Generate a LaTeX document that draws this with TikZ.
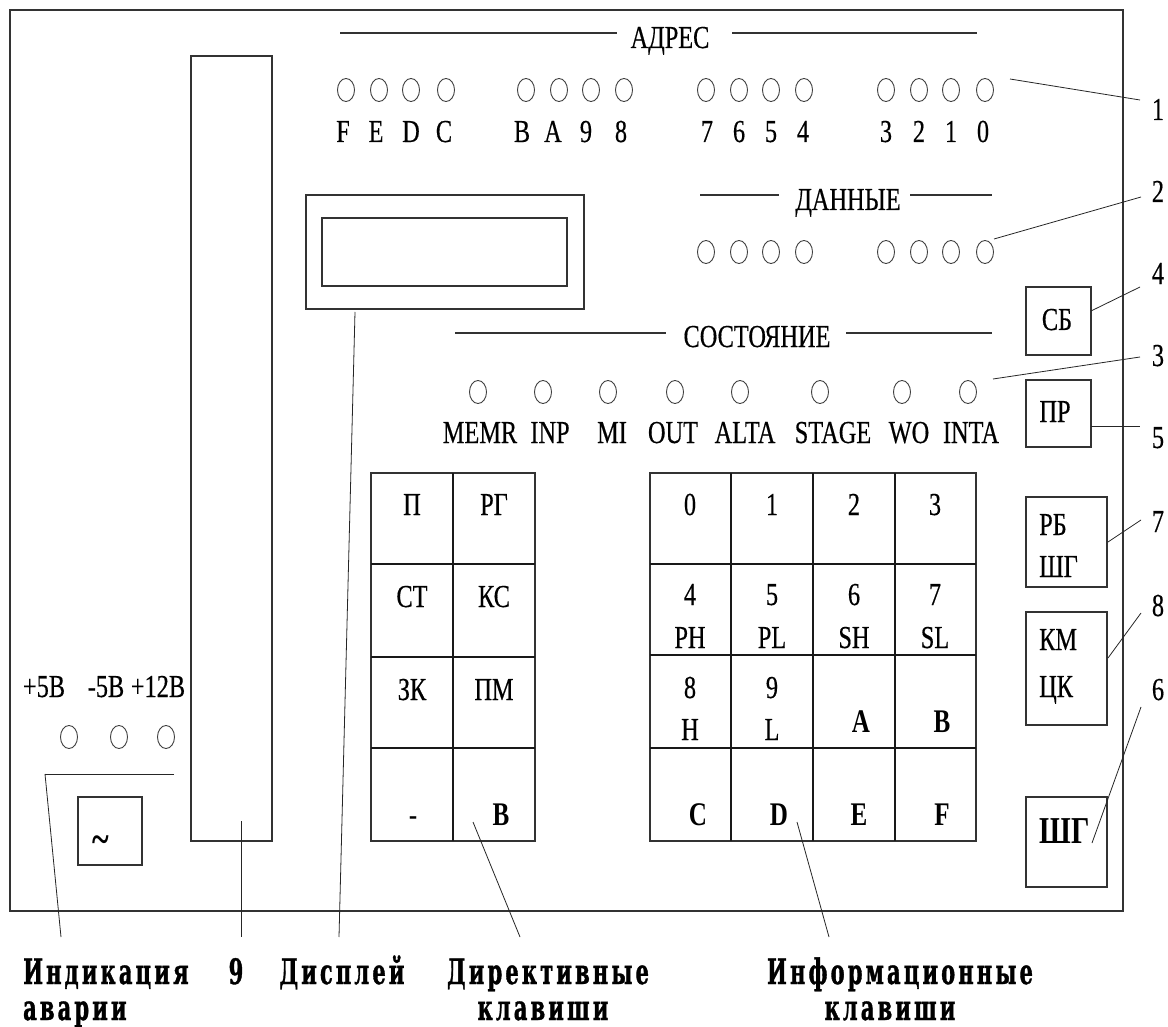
\documentclass[tikz,border=0pt]{standalone}
\usepackage{fontspec}
\setmainfont{Liberation Serif}[FakeStretch=0.76,UprightFeatures={FakeBold=0.4}]
\newfontfamily\botfamily{DejaVu Serif}[FakeStretch=0.6,LetterSpace=9,FakeBold=1]
\usetikzlibrary{shapes.geometric}
\newcommand\rmt{\fontsize{32}{32}\selectfont}
\newcommand\bldt{\fontsize{33}{33}\selectfont\bfseries}
\newcommand\bott{\botfamily\bfseries\fontsize{35}{35}\selectfont}
\begin{document}
\begin{tikzpicture}[x=1pt,y=-1pt,
  ln/.style={draw=black!80,line width=1.1pt},
  led/.style={ellipse,draw=black!75,line width=0.9pt,minimum width=17pt,minimum height=23pt,inner sep=0pt},
  lbl/.style={font=\rmt,inner sep=0pt,anchor=base},
  blbl/.style={font=\bldt,inner sep=0pt,anchor=base},
  botlbl/.style={font=\bott,inner sep=0pt,anchor=base},
  box/.style={draw=black!80,line width=1.1pt,anchor=north west,inner sep=0pt,outer sep=0pt},
  leader/.style={draw=black!85,line width=0.8pt},
  hkey/.style={draw=black!90,line width=2.8pt},
  vkey/.style={draw=black!90,line width=2pt}]
\useasboundingbox (0,0) rectangle (1168,1027);
\fill[white] (0,0) rectangle (1168,1027);

% frame
\node[box,minimum width=1113pt,minimum height=901pt] (frame) at (10,10) {};

% title lines
\node[lbl] (adr) at (670,48) {АДРЕС};
\coordinate (adrL1) at (340,33); \coordinate (adrL2) at (617,33);
\coordinate (adrR1) at (732,33); \coordinate (adrR2) at (977,33);
\draw[ln] (adrL1) -- (adrL2); \draw[ln] (adrR1) -- (adrR2);

\node[lbl] (dat) at (848,210) {ДАННЫЕ};
\coordinate (datL1) at (700,195); \coordinate (datL2) at (779,195);
\coordinate (datR1) at (910,195); \coordinate (datR2) at (992,195);
\draw[ln] (datL1) -- (datL2); \draw[ln] (datR1) -- (datR2);

\node[lbl] (sost) at (757,347) {СОСТОЯНИЕ};
\coordinate (stL1) at (455,333); \coordinate (stL2) at (666,333);
\coordinate (stR1) at (846,333); \coordinate (stR2) at (992,333);
\draw[ln] (stL1) -- (stL2); \draw[ln] (stR1) -- (stR2);

% address LEDs and labels
\foreach \x [count=\i] in {346,379,411,446,526,559,591,624,706,739,771,804,886,919,951,985}
  \node[led] (a\i) at (\x,90) {};
\foreach \x/\t [count=\i] in {343/F,376/E,411/D,444/C,522/B,553/A,586/9,621/8,707/7,739/6,771/5,803/4,886/3,919/2,951/1,983/0}
  \node[lbl] (al\i) at (\x,142) {\t};

% data LEDs
\foreach \x [count=\i] in {706,739,771,804,886,919,951,985}
  \node[led] (d\i) at (\x,252) {};

% status LEDs and labels
\foreach \x [count=\i] in {478,543,608,675,740,820,902,968}
  \node[led] (s\i) at (\x,392) {};
\foreach \x/\t [count=\i] in {480/MEMR,550/INP,612/MI,673/OUT,745/ALTA,833/STAGE,909/WO,971/INTA}
  \node[lbl] (sl\i) at (\x,443) {\t};

% tall rectangle (9)
\node[box,minimum width=81pt,minimum height=785pt] (tall) at (191,56) {};

% display
\node[box,minimum width=278pt,minimum height=114pt] (dispout) at (306,195) {};
\node[box,minimum width=245pt,minimum height=68pt] (dispin) at (322,218) {};

% right buttons
\node[box,minimum width=65pt,minimum height=68pt] (sb) at (1026,287) {};
\node[lbl] (sbt) at (1057,330) {СБ};
\node[box,minimum width=65pt,minimum height=67pt] (pr) at (1026,380) {};
\node[lbl] (prt) at (1055,422) {ПР};
\node[box,minimum width=81pt,minimum height=90pt] (rb) at (1026,497) {};
\node[lbl,anchor=base west] (rbt1) at (1039,535) {РБ};
\node[lbl,anchor=base west] (rbt2) at (1039,577) {ШГ};
\node[box,minimum width=81pt,minimum height=113pt] (km) at (1026,612) {};
\node[lbl,anchor=base west] (kmt1) at (1039,650) {КМ};
\node[lbl,anchor=base west] (kmt2) at (1039,697) {ЦК};
\node[box,minimum width=81pt,minimum height=90pt] (shg) at (1026,797) {};
\node[blbl,font=\fontsize{38}{38}\selectfont\bfseries] (shgt) at (1065,843) {ШГ};

% right numbers
\node[lbl] (n1) at (1158,120) {1};
\node[lbl] (n2) at (1158,202) {2};
\node[lbl] (n4) at (1158,284) {4};
\node[lbl] (n3) at (1158,366) {3};
\node[lbl] (n5) at (1158,448) {5};
\node[lbl] (n7) at (1158,532) {7};
\node[lbl] (n8) at (1158,616) {8};
\node[lbl] (n6) at (1158,700) {6};

% right leaders
\coordinate (e1) at (1140,100); \coordinate (b1) at (1010,79);
\coordinate (e2) at (1141,197); \coordinate (b2) at (994,239);
\coordinate (e4) at (1140,287); \coordinate (b4) at (1091,311);
\coordinate (e3) at (1140,357); \coordinate (b3) at (993,379);
\coordinate (e5) at (1140,426); \coordinate (b5) at (1091,426);
\coordinate (e7) at (1141,520); \coordinate (b7) at (1108,542);
\coordinate (e8) at (1141,613); \coordinate (b8) at (1108,658);
\coordinate (e6) at (1141,707); \coordinate (b6) at (1092,843);
\foreach \k in {1,2,4,3,5,7,8,6} \draw[leader] (b\k) -- (e\k);

% directive keys
\node[box,minimum width=164pt,minimum height=368pt] (dirk) at (371,473) {};
\foreach \y in {564,657,748} \draw[hkey] (371,\y) -- (535,\y);
\draw[vkey] (453,473) -- (453,841);
\node[lbl] (k1) at (412,515) {П};
\node[lbl] (k2) at (494,515) {РГ};
\node[lbl] (k3) at (412,607) {СТ};
\node[lbl] (k4) at (494,607) {КС};
\node[lbl] (k5) at (412,700) {ЗК};
\node[lbl] (k6) at (494,700) {ПМ};
\node[lbl] (k7) at (413,825) {-};
\node[blbl] (k8) at (501,825) {В};

% information keys
\node[box,minimum width=326pt,minimum height=368pt] (infk) at (650,473) {};
\foreach \y in {564,655,748} \draw[hkey] (650,\y) -- (976,\y);
\foreach \x in {731,813,895} \draw[vkey] (\x,473) -- (\x,841);
\foreach \x/\t [count=\i] in {690/0,772/1,854/2,935/3}
  \node[lbl] (r1\i) at (\x,515) {\t};
\foreach \x/\t/\u [count=\i] in {690/4/PH,772/5/PL,854/6/SH,935/7/SL}{
  \node[lbl] (r2\i) at (\x,605) {\t};
  \node[lbl] (q2\i) at (\x,648) {\u};}
\node[lbl] (r31) at (690,698) {8};
\node[lbl] (q31) at (690,740) {H};
\node[lbl] (r32) at (772,698) {9};
\node[lbl] (q32) at (772,740) {L};
\node[blbl] (r33) at (861,732) {A};
\node[blbl] (r34) at (942,732) {B};
\foreach \x/\t [count=\i] in {698/C,779/D,859/E,942/F}
  \node[blbl] (r4\i) at (\x,825) {\t};

% power indication
\node[lbl] (p1) at (44,697) {+5B};
\node[lbl] (p2) at (106,697) {-5B};
\node[lbl] (p3) at (158,697) {+12B};
\foreach \x [count=\i] in {69,119,166}
  \node[led] (pl\i) at (\x,737) {};
\coordinate (pw1) at (45,774); \coordinate (pw2) at (174,774);
\draw[leader] (pw2) -- (pw1);
\node[box,minimum width=64pt,minimum height=68pt] (ac) at (78,797) {};
\node[inner sep=0pt,font=\fontsize{42}{42}\selectfont\bfseries] (tl) at (101,845) {\textasciitilde};

% bottom leaders
\coordinate (bi) at (61,937); \draw[leader] (pw1) -- (bi);
\coordinate (t9a) at (241,821); \coordinate (t9b) at (241,937); \draw[leader] (t9a) -- (t9b);
\coordinate (dsa) at (355,312); \coordinate (dsb) at (339,937); \draw[leader] (dsa) -- (dsb);
\coordinate (dra) at (473,822); \coordinate (drb) at (520,937); \draw[leader] (dra) -- (drb);
\coordinate (ina) at (797,822); \coordinate (inb) at (829,937); \draw[leader] (ina) -- (inb);

% bottom labels
\node[botlbl,anchor=base west] (b1l1) at (23,984) {Индикация};
\node[botlbl,anchor=base west] (b1l2) at (23,1020) {аварии};
\node[botlbl] (b9) at (236,984) {9};
\node[botlbl] (bdisp) at (342,984) {Дисплей};
\node[botlbl] (bdir1) at (548,984) {Директивные};
\node[botlbl] (bdir2) at (543,1020) {клавиши};
\node[botlbl] (binf1) at (900,984) {Информационные};
\node[botlbl] (binf2) at (890,1020) {клавиши};
\end{tikzpicture}
\end{document}
